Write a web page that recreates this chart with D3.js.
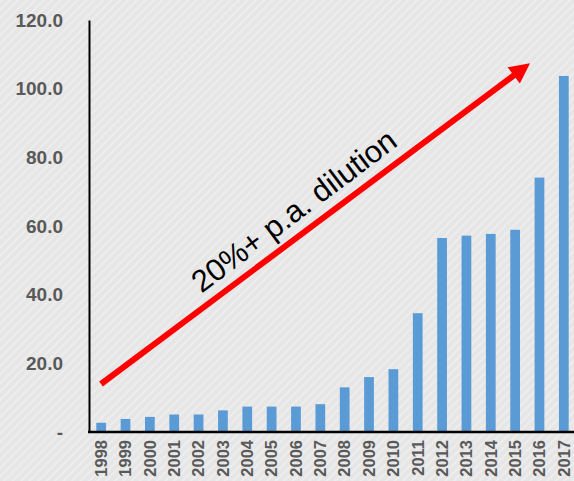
<!DOCTYPE html>
<html lang="en">
<head>
<meta charset="UTF-8">
<script src="https://cdnjs.cloudflare.com/ajax/libs/d3/7.8.5/d3.min.js"></script>
<style>
  body { margin: 0; background: #e7e7e7; }
  svg { display: block; }
</style>
</head>
<body>
<svg id="chart" width="574" height="481"></svg>
<script>
// chart data
var years = ["1998","1999","2000","2001","2002","2003","2004","2005","2006","2007",
             "2008","2009","2010","2011","2012","2013","2014","2015","2016","2017"];
var values = [2.7, 3.8, 4.4, 5.1, 5.1, 6.3, 7.4, 7.4, 7.4, 8.1,
              13.0, 16.0, 18.3, 34.6, 56.5, 57.2, 57.7, 58.9, 74.1, 103.7];
var yTicks = [0, 20, 40, 60, 80, 100, 120];
var note = "20%+ p.a. dilution";

var svg = d3.select("#chart");
var W = 574, H = 481;
var plotL = 89, plotR = 576, plotT = 20, plotB = 432;

// textured grey background
var defs = svg.append("defs");
var pat = defs.append("pattern")
    .attr("id", "tex").attr("width", 6).attr("height", 6)
    .attr("patternUnits", "userSpaceOnUse")
    .attr("patternTransform", "rotate(45)");
pat.append("rect").attr("width", 6).attr("height", 6).attr("fill", "#e6e6e6");
pat.append("rect").attr("width", 2).attr("height", 6).attr("fill", "#ededed");
svg.append("rect").attr("width", W).attr("height", H).attr("fill", "url(#tex)");

var x = d3.scaleBand().domain(years).range([plotL, plotR]).paddingInner(0.6).paddingOuter(0.3);
var y = d3.scaleLinear().domain([0, 120]).range([plotB, plotT]);

// bars
svg.selectAll("rect.bar")
  .data(values)
  .enter()
  .append("rect")
    .attr("class", "bar")
    .attr("x", (d, i) => x(years[i]))
    .attr("width", x.bandwidth())
    .attr("y", d => y(d))
    .attr("height", d => y(0) - y(d))
    .style("fill", "#5b9bd5");

// y axis
var yAxis = d3.axisLeft(y).tickValues(yTicks).tickSize(0).tickPadding(26)
    .tickFormat(d => d === 0 ? "-" : d3.format(".1f")(d));
var gy = svg.append("g").attr("transform", "translate(" + plotL + ",0)").call(yAxis);
gy.select(".domain").attr("stroke", "#000").attr("stroke-width", 2);
gy.selectAll("text")
    .style("font-family", "Liberation Sans, Arial, sans-serif")
    .style("font-size", "19px").style("font-weight", "bold").style("fill", "#595959");

// x axis
var xAxis = d3.axisBottom(x).tickSize(0).tickPadding(8);
var gx = svg.append("g").attr("transform", "translate(0," + plotB + ")").call(xAxis);
gx.select(".domain").attr("d", "M" + (plotL - 1) + ",0H" + W).attr("stroke", "#000").attr("stroke-width", 2.5);
gx.selectAll("text")
    .attr("transform", "rotate(-90)")
    .attr("x", -8).attr("y", 0).attr("dy", "0.35em")
    .style("text-anchor", "end")
    .style("font-family", "Liberation Sans, Arial, sans-serif")
    .style("font-size", "16.5px").style("font-weight", "bold").style("fill", "#595959");

// red arrow
defs.append("marker")
    .attr("id", "head").attr("viewBox", "0 0 10 10")
    .attr("refX", 2).attr("refY", 5)
    .attr("markerWidth", 3.6).attr("markerHeight", 3.4)
    .attr("orient", "auto").attr("markerUnits", "strokeWidth")
  .append("path").attr("d", "M0,0L10,5L0,10z").attr("fill", "#ff0000");

svg.append("line")
    .attr("x1", 101).attr("y1", 384)
    .attr("x2", 517).attr("y2", 73)
    .attr("stroke", "#ff0000").attr("stroke-width", 6)
    .attr("marker-end", "url(#head)");

svg.append("text")
    .attr("transform", "translate(294,211) rotate(-37)")
    .attr("text-anchor", "middle").attr("dominant-baseline", "central")
    .style("font-family", "Liberation Sans, Arial, sans-serif")
    .style("font-size", "31px").style("fill", "#000")
    .text(note);
</script>
</body>
</html>
